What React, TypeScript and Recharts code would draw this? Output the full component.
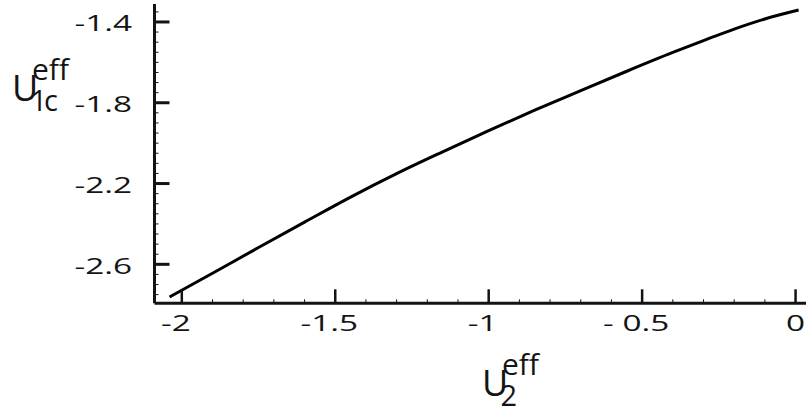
import React from 'react';
import { LineChart, Line, XAxis, YAxis } from 'recharts';

// Effective interaction curve U_1c^eff as a function of U_2^eff
const u2Values = [-2.04, -1.9, -1.75, -1.6, -1.45, -1.3, -1.15, -1.0, -0.85, -0.7, -0.55, -0.4, -0.3, -0.2, -0.1, 0.01];
const u1cValues = [-2.762, -2.644, -2.517, -2.391, -2.267, -2.151, -2.043, -1.938, -1.837, -1.74, -1.644, -1.551, -1.492, -1.435, -1.385, -1.341];

const xMajorTicks = [-2, -1.5, -1, -0.5, 0];
const xTickLabels = ['-2', '-1.5', '-1', '- 0.5', '0'];
const yMajorTicks = [-2.6, -2.2, -1.8, -1.4];
const yTickLabels = ['-2.6', '-2.2', '-1.8', '-1.4'];

const X_DOMAIN: [number, number] = [-2.089, 0.034];
const Y_DOMAIN: [number, number] = [-2.793, -1.311];

const FONT = '"Open Sans", "Noto Sans", sans-serif';
const INK = '#141414';
const TICK_FONT_SIZE = 21.5;
const TICK_STRETCH = 1.55;

const stepTicks = (from: number, to: number, step: number) => {
  const out: number[] = [];
  const n = Math.round((to - from) / step);
  for (let i = 0; i <= n; i++) out.push(Number((from + i * step).toFixed(3)));
  return out;
};

const xMinorTicks = stepTicks(-2, 0, 0.1);
const yMinorTicks = stepTicks(-2.75, -1.35, 0.05);

const data = u2Values.map((x, i) => ({ x, y: u1cValues[i] }));

const majorIndex = (list: number[], v: number) => list.findIndex((m) => Math.abs(m - v) < 1e-6);

const StretchedText = ({ x, y, anchor, children }: { x: number; y: number; anchor: 'start' | 'middle' | 'end'; children: React.ReactNode }) => (
  <text
    transform={`translate(${x},${y}) scale(${TICK_STRETCH},1)`}
    textAnchor={anchor}
    fontFamily={FONT}
    fontSize={TICK_FONT_SIZE}
    fill={INK}
    style={{ whiteSpace: 'pre' }}
  >
    {children}
  </text>
);

const BottomTick = (props: any) => {
  const { x, y, payload } = props;
  const idx = majorIndex(xMajorTicks, payload.value);
  const major = idx >= 0;
  const label = major ? xTickLabels[idx] : '';
  const dx = label.startsWith('-') ? -6 : 0;
  return (
    <g>
      <line x1={x} x2={x} y1={y} y2={y - (major ? 14 : 4)} stroke={INK} strokeWidth={major ? 2.5 : 1} />
      {major && (
        <StretchedText x={x + dx} y={y + 28} anchor="middle">
          {label}
        </StretchedText>
      )}
    </g>
  );
};

const TopTick = (props: any) => {
  const { x, y } = props;
  return <line x1={x} x2={x} y1={y} y2={y + 4} stroke={INK} strokeWidth={1} />;
};

const LeftTick = (props: any) => {
  const { x, y, payload } = props;
  const idx = majorIndex(yMajorTicks, payload.value);
  const major = idx >= 0;
  return (
    <g>
      <line x1={x} x2={x + (major ? 15 : 4)} y1={y} y2={y} stroke={INK} strokeWidth={major ? 3 : 1} />
      {major && (
        <StretchedText x={132} y={y + 9.5} anchor="end">
          {yTickLabels[idx]}
        </StretchedText>
      )}
    </g>
  );
};

// Axis title: main letter with a superscript and a subscript stacked after it
const AxisTitle = ({ x, baseline, sub }: { x: number; baseline: number; sub: string }) => (
  <text fontFamily={FONT} fill={INK}>
    <tspan x={x} y={baseline} fontSize={36} letterSpacing={-6}>U</tspan>
    <tspan x={x + 20} y={baseline - 21} fontSize={30}>eff</tspan>
    <tspan x={x + 18.5} y={baseline + 10} fontSize={29} letterSpacing={-3}>
      {sub}
    </tspan>
  </text>
);

export default function App() {
  return (
    <div style={{ position: 'absolute', left: 0, top: 0, width: 806, height: 410, background: '#fff' }}>
      <LineChart width={806} height={410} data={data} margin={{ top: 4, right: 0, bottom: 0, left: 0 }}>
        <XAxis
          xAxisId="bottom"
          dataKey="x"
          type="number"
          domain={X_DOMAIN}
          allowDataOverflow
          ticks={xMinorTicks}
          interval={0}
          tick={(p: any) => <BottomTick {...p} />}
          tickLine={false}
          tickSize={0}
          tickMargin={0}
          axisLine={{ stroke: INK, strokeWidth: 3 }}
          height={106.7}
        />
        <XAxis
          xAxisId="top"
          orientation="top"
          type="number"
          domain={X_DOMAIN}
          allowDataOverflow
          ticks={xMinorTicks}
          interval={0}
          tick={(p: any) => <TopTick {...p} />}
          tickLine={false}
          tickSize={0}
          tickMargin={0}
          axisLine={{ stroke: INK, strokeWidth: 2 }}
          height={0}
        />
        <YAxis
          type="number"
          domain={Y_DOMAIN}
          allowDataOverflow
          ticks={yMinorTicks}
          interval={0}
          tick={(p: any) => <LeftTick {...p} />}
          tickLine={false}
          tickSize={0}
          tickMargin={0}
          axisLine={{ stroke: INK, strokeWidth: 3 }}
          width={154.5}
        />
        <Line
          xAxisId="bottom"
          dataKey="y"
          type="monotone"
          stroke="#000"
          strokeWidth={3}
          dot={false}
          activeDot={false}
          isAnimationActive={false}
        />
        <AxisTitle x={12} baseline={101} sub="1c" />
        <AxisTitle x={482} baseline={396} sub="2" />
      </LineChart>
    </div>
  );
}
